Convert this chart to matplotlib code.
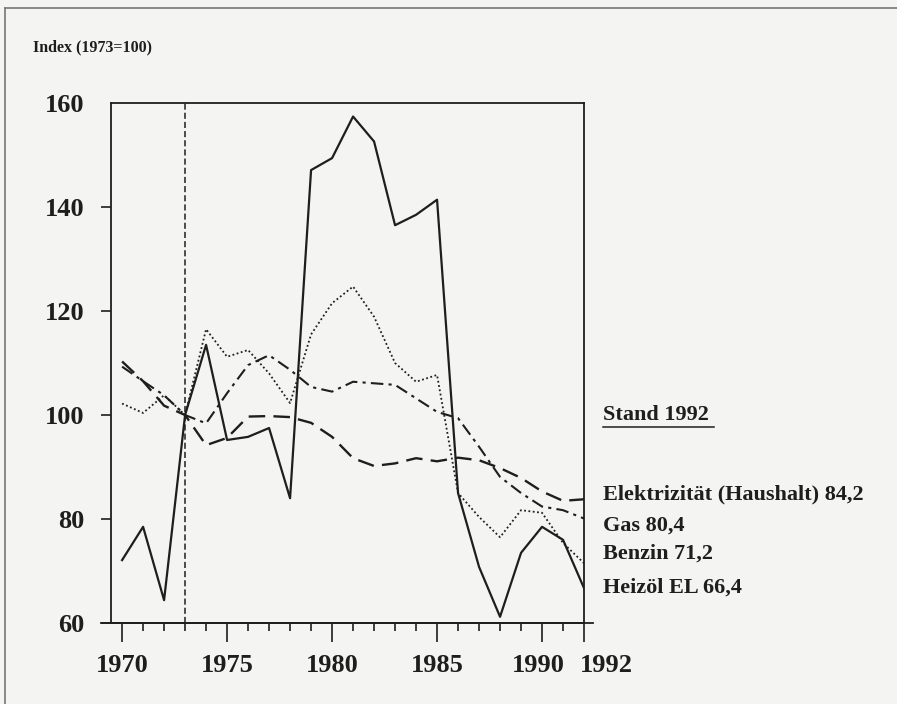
import matplotlib
matplotlib.use("Agg")
import matplotlib.pyplot as plt
import matplotlib.transforms as mtransforms
from matplotlib.lines import Line2D

# Energiepreise, Index 1973=100
years = list(range(1970, 1993))
elektrizitaet = [110.3, 106.5, 101.8, 100.0, 94.2, 95.6, 99.7, 99.8, 99.6, 98.5, 95.8,
                 91.7, 90.2, 90.7, 91.7, 91.1, 91.8, 91.3, 89.8, 87.9, 85.3, 83.5, 83.8]
gas = [109.3, 106.5, 103.8, 100.0, 98.4, 104.2, 109.6, 111.5, 108.7, 105.4, 104.5,
       106.4, 106.1, 105.8, 103.2, 100.6, 99.4, 93.9, 88.1, 85.0, 82.4, 81.7, 80.1]
benzin = [102.2, 100.4, 103.8, 100.0, 116.5, 111.2, 112.5, 108.0, 102.3, 115.5, 121.5,
          124.7, 118.9, 110.0, 106.4, 107.7, 85.0, 80.4, 76.5, 81.7, 81.2, 75.4, 71.5]
heizoel = [72.1, 78.5, 64.4, 100.0, 113.5, 95.2, 95.8, 97.5, 84.0, 147.1, 149.4,
           157.4, 152.6, 136.5, 138.5, 141.4, 85.0, 70.8, 61.2, 73.5, 78.5, 76.0, 66.7]

yticks = [60, 80, 100, 120, 140, 160]
xticks_major = [1970, 1975, 1980, 1985, 1990, 1992]
legend_lines = ["Elektrizität (Haushalt) 84,2", "Gas 80,4", "Benzin 71,2", "Heizöl EL 66,4"]

plt.rcParams['font.family'] = ['Liberation Serif', 'DejaVu Serif']
ink = '#1e1e1e'
paper = '#f4f4f2'

fig = plt.figure(figsize=(8.97, 7.04), dpi=100, facecolor=paper)
ax = fig.add_axes([0.1237, 0.115, 0.5274, 0.7387], facecolor=paper)

ax.plot(years, heizoel, color=ink, lw=1.6, ls='-')
ax.plot(years, benzin, color=ink, lw=1.3, ls=(0, (1, 1.4)))
ax.plot(years, gas, color=ink, lw=1.5, ls=(0, (6, 2.5, 1.5, 2.5)))
ax.plot(years, elektrizitaet, color=ink, lw=1.7, ls=(0, (7, 3.5)))
ax.axvline(1973, color=ink, lw=1.1, ls=(0, (4, 2)))

ax.set_xlim(1969.47, 1992)
ax.set_ylim(60, 160)

ax.set_yticks(yticks)
ax.set_yticklabels([str(v) for v in yticks], fontsize=19, fontweight='bold')
ax.tick_params(axis='y', direction='out', length=7, width=1.2, pad=12, colors=ink)
ax.yaxis.get_major_ticks()[-1].tick1line.set_visible(False)

ax.set_xticks(xticks_major)
ax.set_xticklabels([str(v) for v in xticks_major], fontsize=19, fontweight='bold')
ax.set_xticks(years, minor=True)
ax.tick_params(axis='x', which='major', direction='out', length=14, width=1.2, pad=8, colors=ink)
ax.tick_params(axis='x', which='minor', direction='out', length=6, width=1.2, colors=ink)

# 1992 label sits to the right of its tick, 1990 a little to the left
xlabels = ax.get_xticklabels()
xlabels[-1].set_transform(xlabels[-1].get_transform() +
                          mtransforms.ScaledTranslation(0.22, 0, fig.dpi_scale_trans))
xlabels[-2].set_transform(xlabels[-2].get_transform() +
                          mtransforms.ScaledTranslation(-0.04, 0, fig.dpi_scale_trans))

for s in ax.spines.values():
    s.set_color(ink)
    s.set_linewidth(1.3)

# x axis line runs a bit past the box on both sides
ax.plot([1969.0, 1992.45], [60, 60], color=ink, lw=1.3, clip_on=False)

fig.text(0.037, 0.932, "Index (1973=100)", fontsize=11.5, fontweight='bold', color=ink,
         va='center', ha='left')

fig.text(0.672, 0.41, "Stand 1992", fontsize=16, fontweight='bold', color=ink,
         va='center', ha='left')
ul_y = 0.394
fig.add_artist(Line2D([0.672, 0.796], [ul_y, ul_y], color=ink, lw=1.1))

legend_y = [0.298, 0.254, 0.213, 0.165]
for txt, yy in zip(legend_lines, legend_y):
    fig.text(0.672, yy, txt, fontsize=16, fontweight='bold', color=ink,
             va='center', ha='left')

# page frame
fig.add_artist(Line2D([0.006, 0.006], [0.0, 0.988], color='#777777', lw=1.2))
fig.add_artist(Line2D([0.006, 1.0], [0.988, 0.988], color='#777777', lw=1.2))

fig.savefig("out.png", dpi=100, facecolor=paper)
